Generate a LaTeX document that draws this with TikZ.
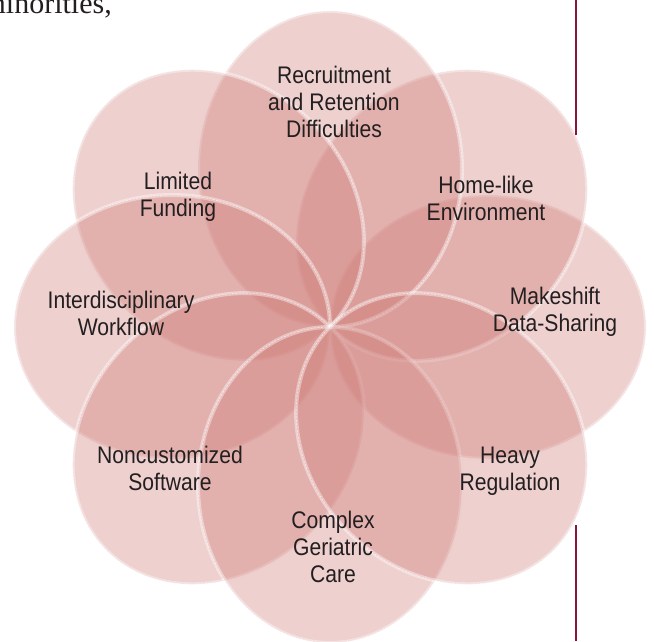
\documentclass[tikz,border=0pt]{standalone}
\usepackage{fontspec}
\usepackage{tikz}
\usetikzlibrary{shapes.geometric}

\newfontfamily\labelfont{Liberation Sans}[FakeStretch=0.88]
\newfontfamily\bodyfont{Liberation Serif}

\definecolor{petalred}{RGB}{205,120,115}
\definecolor{labelgray}{RGB}{35,31,32}
\definecolor{rulered}{RGB}{140,20,60}

\begin{document}
\begin{tikzpicture}[x=1pt, y=-1pt]

\tikzstyle{petal_shape} = [ellipse, minimum width=316pt, minimum height=264pt, inner sep=0pt,
	fill=petalred, fill opacity=0.35, draw=white, draw opacity=0.4, line width=4pt,
	postaction={draw=white, draw opacity=0.8, line width=0.4pt, dash pattern=on 2pt off 1.5pt}]
\tikzstyle{petal_text} = [align=center, text=labelgray, font=\labelfont\fontsize{24}{27}\selectfont]
\tikzstyle{page_rule} = [draw=rulered, line width=2pt]

\clip (0,0) rectangle (654,641);

%------------------------------------------------------------
	\node[petal_shape, rotate=0]   (p_e)  at (488,327)   {};
	\node[petal_shape, rotate=45]  (p_ne) at (441.7,215.3) {};
	\node[petal_shape, rotate=90]  (p_n)  at (330,169)   {};
	\node[petal_shape, rotate=135] (p_nw) at (218.3,215.3) {};
	\node[petal_shape, rotate=0]   (p_w)  at (172,327)   {};
	\node[petal_shape, rotate=45]  (p_sw) at (218.3,438.7) {};
	\node[petal_shape, rotate=90]  (p_s)  at (330,485)   {};
	\node[petal_shape, rotate=135] (p_se) at (441.7,438.7) {};

%------------------------------------------------------------
	\node[petal_text] (t_n)  at (334,102) {Recruitment\\and Retention\\Difficulties};
	\node[petal_text] (t_ne) at (486,198) {Home-like\\Environment};
	\node[petal_text] (t_e)  at (555,312) {Makeshift\\Data-Sharing};
	\node[petal_text] (t_se) at (510,471) {Heavy\\Regulation};
	\node[petal_text] (t_s)  at (333,547) {Complex\\Geriatric\\Care};
	\node[petal_text] (t_sw) at (170,468) {Noncustomized\\Software};
	\node[petal_text] (t_w)  at (121,313) {Interdisciplinary\\Workflow};
	\node[petal_text] (t_nw) at (178,197) {Limited\\Funding};

%------------------------------------------------------------
	\node[anchor=base east, inner sep=0pt, text=labelgray, font=\bodyfont\fontsize{30}{34}\selectfont]
		(minorities) at (112,13) {minorities,};

	\coordinate (rule_a1) at (576,0);
	\coordinate (rule_a2) at (576,135);
	\coordinate (rule_b1) at (576,525);
	\coordinate (rule_b2) at (576,641);
	\draw[page_rule] (rule_a1) -- (rule_a2);
	\draw[page_rule] (rule_b1) -- (rule_b2);

\end{tikzpicture}
\end{document}
